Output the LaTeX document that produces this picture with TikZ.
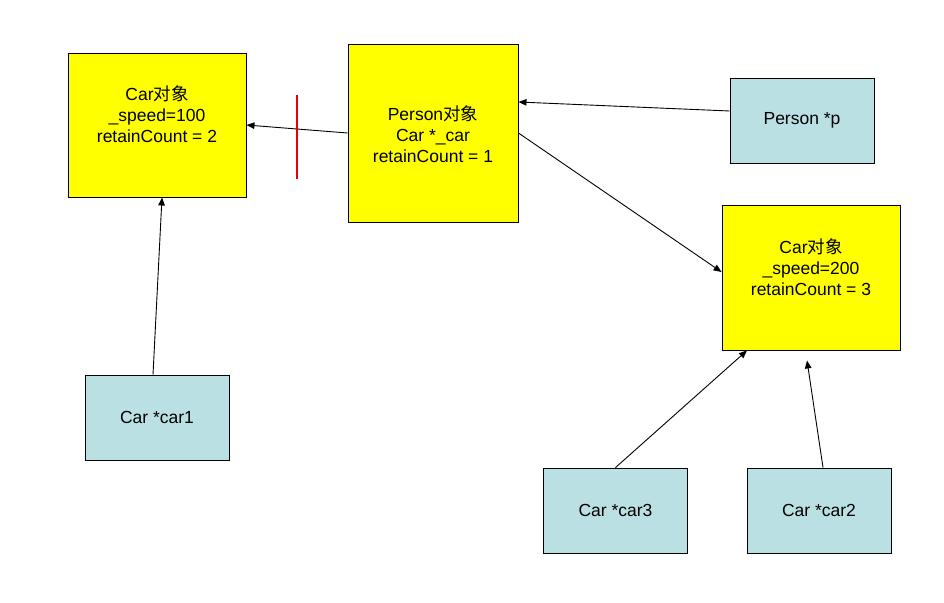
\documentclass[tikz,border=0pt]{standalone}
\usepackage{fontspec}
\setmainfont{Liberation Sans}
\newfontfamily\cjk{Noto Sans CJK SC}
\usetikzlibrary{arrows.meta}
\definecolor{boxyellow}{RGB}{255,255,0}
\definecolor{boxblue}{RGB}{187,224,227}
\definecolor{cutred}{RGB}{230,0,0}
\newcommand{\lowtxt}[1]{\raisebox{-2.5pt}{#1}}
\begin{document}
\begin{tikzpicture}[x=1pt,y=-1pt,
  ybox/.style={draw=black,line width=0.9pt,fill=boxyellow,inner sep=0pt},
  bbox/.style={draw=black,line width=0.9pt,fill=boxblue,inner sep=0pt,minimum width=144pt,minimum height=85pt,
    font=\fontsize{17.5pt}{21pt}\selectfont},
  txt/.style={align=center,inner sep=0pt,font=\fontsize{17.5pt}{21pt}\selectfont},
  conn/.style={line width=0.9pt,-{Triangle[length=8pt,width=6.5pt]}}]
\useasboundingbox (0,0) rectangle (944,602);
\fill[white] (0,0) rectangle (944,602);
% yellow object boxes
\node[ybox,minimum width=178pt,minimum height=144pt] (c1) at (157,125) {};
\node[txt] (c1t) at (157,114) {Car{\cjk 对象}\\\_speed=100\\retainCount = 2};
\node[ybox,minimum width=170pt,minimum height=178pt] (pers) at (433,133) {};
\node[txt] (perst) at (433,134) {Person{\cjk 对象}\\Car *\_car\\retainCount = 1};
\node[ybox,minimum width=178pt,minimum height=145pt] (c2) at (811,277.5) {};
\node[txt] (c2t) at (811,267) {Car{\cjk 对象}\\\_speed=200\\retainCount = 3};
% blue pointer boxes
\node[bbox] (p) at (802,120.5) {\lowtxt{Person *p}};
\node[bbox] (car1) at (157,417.5) {\lowtxt{Car *car1}};
\node[bbox] (car3) at (615.5,510.5) {\lowtxt{Car *car3}};
\node[bbox] (car2) at (819,510.5) {\lowtxt{Car *car2}};
% connectors
\draw[conn] (pers.west) -- (c1.east);
\draw[conn] ([yshift=9.5pt]p.west) -- ([yshift=31pt]pers.east);
\draw[conn] (pers.east) -- ([yshift=5.5pt]c2.west);
\draw[conn] ([xshift=-4pt]car1.north) -- ([xshift=5pt]c1.south);
\draw[conn] (car3.north) -- ([xshift=-64pt]c2.south);
\draw[conn] ([xshift=4pt]car2.north) -- ([xshift=-4pt,yshift=-10pt]c2.south);
% red cut mark
\coordinate (cutA) at (297,95);
\coordinate (cutB) at (297,179);
\draw[cutred,line width=1.1pt] (cutA) -- (cutB);
\end{tikzpicture}
\end{document}
